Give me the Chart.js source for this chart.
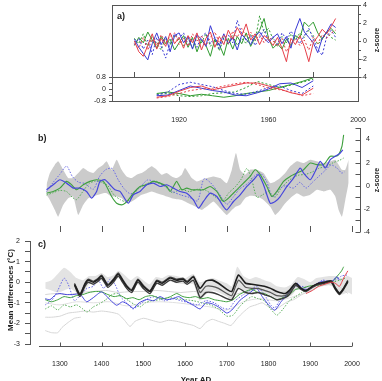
<!DOCTYPE html>
<html>
<head>
<meta charset="utf-8">
<script src="https://cdn.jsdelivr.net/npm/chart.js@4"></script>
<style>
  html, body { margin: 0; padding: 0; background: #fff; }
  #wrap { position: relative; width: 382px; height: 381px; overflow: hidden; }
  canvas { position: absolute; left: 0; top: 0; }
</style>
</head>
<body>
<div id="wrap">
  <canvas id="pa1" width="382" height="381"></canvas>
  <canvas id="pa2" width="382" height="381"></canvas>
  <canvas id="pb" width="382" height="381"></canvas>
  <canvas id="pc" width="382" height="381"></canvas>
</div>
<script>
const FONT = '"Liberation Sans", Arial, sans-serif';
const INK = '#222';
const AXIS = '#555';

// ---- panel a (top): yearly z-scores, every 2nd year ----
const aYears = [1900,1902,1904,1906,1908,1910,1912,1914,1916,1918,1920,1922,1924,1926,1928,1930,1932,1934,1936,1938,1940,1942,1944,1946,1948,1950,1952,1954,1956,1958,1960,1962,1964,1966,1968,1970,1972,1974,1976,1978,1980,1982,1984,1986,1988,1990];
const aRed = [0.0,-1.2,-1.7,-0.5,0.8,-0.9,0.3,-0.6,0.9,-0.3,0.4,-0.8,0.6,-0.2,0.9,-1.0,0.3,1.0,-0.7,0.5,-0.4,1.2,0.2,1.5,0.6,1.9,0.1,0.8,-0.4,0.6,0.2,-0.5,0.4,-0.8,-2.3,0.3,-0.4,0.6,-0.6,-2.3,-0.2,0.5,1.3,0.8,1.6,2.5];
const aRedDot = [-0.3,-0.8,0.4,-1.0,0.2,-0.5,0.7,-0.2,0.5,0.9,-0.4,0.3,-0.6,0.8,0.0,0.6,-0.5,0.4,1.0,-0.2,0.7,-0.3,1.1,0.4,1.4,0.5,1.0,0.1,0.7,-0.2,0.5,0.0,-0.6,0.3,-1.2,-0.3,0.2,-0.5,0.1,-1.0,0.4,-0.3,0.7,0.3,0.9,1.2];
const aBlue = [0.2,-0.7,-1.4,-2.1,-0.3,0.9,-0.4,0.5,-1.2,0.6,0.9,-0.2,0.5,-0.9,0.7,0.2,-0.6,1.7,0.3,-0.5,0.8,-0.3,0.4,-1.0,0.7,0.2,-0.4,0.6,1.0,0.3,-0.2,0.4,0.8,-0.3,0.5,-0.8,1.2,2.5,1.0,0.4,-0.2,-1.3,0.3,1.0,1.9,1.5];
const aBlueDot = [-0.4,0.3,-0.9,0.1,-1.5,0.4,-0.6,-1.9,-0.2,0.8,0.3,0.9,-0.4,0.2,-0.7,0.5,0.9,-0.3,0.4,-0.9,0.3,0.7,-0.2,2.3,0.8,0.1,0.6,-0.5,0.4,1.3,0.0,0.5,-0.4,0.9,0.2,1.1,0.4,-0.3,0.6,1.4,0.2,-0.9,-1.6,0.5,1.2,0.4];
const aGreen = [-0.5,0.4,-0.2,1.0,0.1,-0.8,0.5,-0.3,0.2,-1.0,-0.2,0.6,-0.7,0.4,-1.2,0.1,-0.5,-1.7,0.2,-0.4,-1.6,0.3,-0.9,0.5,-0.3,0.9,-0.6,0.4,1.2,2.5,0.3,-0.8,-0.3,-0.9,0.2,-0.5,0.6,0.3,2.1,1.6,2.1,0.9,0.2,1.0,1.4,0.8];
const aGreenDot = [0.3,-0.3,0.8,-0.6,0.5,-0.3,-1.0,0.4,-0.4,0.7,0.1,-0.5,0.3,-0.8,0.5,-0.2,0.8,-0.6,0.1,-1.1,0.4,-0.4,0.6,-0.5,0.3,-0.3,0.7,0.0,2.8,0.9,1.4,0.2,-0.6,0.5,-0.2,0.8,0.1,0.9,0.4,1.2,0.6,-0.4,0.2,0.9,0.4,0.1];

// ---- panel a (bottom): smoothed, every 5 years ----
const aSmYears = [1910,1915,1920,1925,1930,1935,1940,1945,1950,1955,1960,1965,1970,1975,1980];
const aSmRed = [-0.55,-0.45,-0.15,0.1,0.2,-0.05,0.1,0.25,0.4,0.4,0.2,0.0,-0.25,-0.4,0.05];
const aSmRedDot = [-0.6,-0.5,-0.3,-0.1,0.0,0.05,0.2,0.35,0.45,0.3,0.05,-0.05,-0.2,-0.45,-0.3];
const aSmBlue = [-0.45,-0.4,-0.1,0.2,0.05,-0.1,-0.2,-0.4,-0.45,-0.25,0.0,0.35,0.4,0.1,0.55];
const aSmBlueDot = [-0.4,-0.2,0.3,0.45,0.3,0.15,-0.1,-0.3,-0.35,-0.15,0.1,0.2,-0.1,-0.3,0.2];
const aSmGreen = [-0.3,-0.2,-0.3,-0.45,-0.35,-0.45,-0.55,-0.45,-0.3,-0.2,-0.1,0.1,0.3,0.5,0.75];
const aSmGreenDot = [-0.35,-0.3,-0.45,-0.5,-0.45,-0.3,-0.25,-0.2,0.1,0.5,0.3,0.1,0.25,0.45,0.65];

const aTopTicks = [1900, 1920, 1940, 1960, 1980];
const aLowXTicks = [1920, 1960, 2000];
const aLowInTicks = [1920, 1960];

// ---- panel b ----
const bBandYears = [1268,1276,1288,1296,1308,1320,1332,1344,1356,1368,1380,1392,1404,1412,1424,1436,1448,1460,1472,1484,1496,1508,1520,1532,1544,1556,1568,1580,1592,1600,1616,1628,1640,1652,1668,1684,1700,1712,1722,1732,1744,1756,1772,1788,1804,1816,1828,1840,1852,1868,1884,1900,1916,1932,1948,1960,1968,1976,1984,1992];
const bBandHi = [0.09,1.1,1.83,2.12,1.39,0.67,0.67,1.1,1.54,1.25,1.1,1.54,1.83,2.12,1.39,2.26,1.39,0.81,0.67,0.96,1.1,1.39,1.68,1.39,0.96,1.1,0.81,0.67,0.96,1.54,0.67,0.38,0.52,0.67,0.81,0.67,0.23,1.39,2.84,1.39,0.96,1.39,1.39,1.1,0.23,0.38,0.67,1.1,1.68,2.12,1.97,2.26,2.12,1.97,2.12,2.26,1.83,1.39,1.39,2.26];
const bBandLo = [-0.78,-1.22,-2.09,-2.67,-1.65,-1.07,-0.93,-2.52,-1.65,-1.07,-0.93,-0.78,-0.64,-0.64,-0.93,-0.93,-1.07,-1.51,-1.36,-1.07,-0.78,-0.64,-0.49,-0.64,-0.78,-0.93,-1.07,-1.16,-1.22,-1.36,-1.65,-1.86,-2.09,-1.8,-1.36,-1.94,-2.52,-2.09,-1.8,-1.65,-1.07,-0.87,-0.93,-1.22,-1.8,-2.52,-2.09,-1.51,-1.07,-0.64,-0.93,-0.78,-0.35,-0.49,-0.35,-0.93,-2.09,-2.67,-1.22,0.23];
const bBlueYears = [1268,1284,1300,1316,1332,1348,1364,1376,1388,1396,1408,1420,1432,1444,1464,1476,1492,1508,1524,1540,1556,1572,1588,1604,1620,1632,1644,1660,1676,1692,1700,1716,1732,1748,1764,1776,1788,1804,1816,1828,1844,1860,1876,1884,1900,1912,1924,1936,1948,1960,1972,1978];
const bBlue = [-0.35,0.09,0.52,0.23,-0.2,-0.2,-0.49,-1.07,-0.49,0.38,0.52,0.09,-0.35,-0.49,-1.51,-0.78,-0.49,0.09,0.23,-0.06,0.09,-0.2,-0.49,-0.64,-1.22,-1.94,-1.36,-0.64,-0.93,-1.8,-2.09,-1.36,-0.78,-0.06,0.52,0.96,0.09,-1.51,-1.36,-0.93,-0.06,0.67,1.54,1.1,0.52,1.25,2.12,1.54,2.26,2.55,2.84,3.1];
const bGreenYears = [1268,1284,1300,1316,1328,1340,1356,1372,1388,1404,1412,1424,1436,1448,1456,1464,1476,1492,1508,1524,1540,1556,1564,1572,1580,1592,1604,1616,1628,1644,1660,1676,1692,1708,1724,1740,1756,1768,1780,1796,1808,1820,1836,1852,1868,1884,1900,1916,1932,1948,1960,1968,1976,1980];
const bGreen = [-0.64,-0.49,-0.2,0.38,0.09,-0.35,0.09,0.38,0.52,0.38,-0.06,-0.93,-1.51,-1.65,-1.51,-1.22,-0.64,-0.06,0.09,0.38,0.23,-0.06,-0.49,-0.06,0.38,-0.35,-0.2,-0.35,-0.35,-0.35,-0.06,-0.49,-1.36,-0.93,-0.35,0.23,0.81,1.39,0.96,-0.06,-0.93,-0.49,0.38,0.81,1.1,1.39,1.97,1.83,1.83,2.55,2.55,2.7,3.42,4.41];
const bBlueDotYears = [1268,1284,1300,1316,1330,1345,1360,1380,1395,1410,1425,1440,1455,1470,1490,1510,1530,1550,1570,1590,1610,1630,1645,1660,1680,1700,1715,1730,1750,1765,1780,1795,1810,1825,1840,1860,1875,1890,1905,1920,1935,1950,1965,1975,1982];
const bBlueDot = [-0.5,0.3,1.0,1.7,0.8,0.3,0.2,-0.3,0.8,1.4,1.5,0.5,-0.3,-0.7,-0.2,0.5,0.3,0.0,-0.5,-0.8,-1.0,-1.3,0.6,0.3,-0.6,-1.6,-1.0,-0.3,0.2,0.8,1.1,0.4,-1.0,-0.3,0.0,-0.2,0.3,-0.2,0.3,0.8,1.3,1.8,1.5,1.1,1.2];
const bGreenDotYears = [1268,1284,1300,1316,1330,1340,1355,1370,1385,1400,1415,1430,1445,1460,1475,1490,1510,1530,1550,1570,1590,1610,1630,1650,1670,1690,1705,1720,1735,1748,1760,1772,1785,1800,1815,1830,1850,1870,1890,1905,1920,1940,1955,1970,1980];
const bGreenDot = [-0.8,-0.6,-0.4,-0.5,-1.0,-1.2,-0.5,0.2,0.4,0.3,0.0,-0.8,-1.2,-1.4,-0.8,-0.2,0.2,0.4,0.0,-0.6,-0.3,-0.5,-0.3,-0.4,-0.9,-1.3,-0.6,-0.1,0.6,1.5,0.5,-1.0,-0.8,-0.5,-1.0,-0.2,0.5,0.9,1.0,1.2,1.5,1.7,2.0,2.2,2.4];

// ---- panel c ----
const cBandYears = [1265,1280,1295,1310,1325,1340,1355,1370,1385,1400,1415,1430,1440,1455,1470,1485,1500,1515,1530,1545,1560,1580,1600,1620,1635,1650,1665,1680,1700,1712,1725,1740,1755,1770,1790,1805,1820,1840,1855,1870,1885,1900,1915,1930,1945,1960,1975,1990,2000];
const cBandHi = [0.0,0.1,0.4,0.7,0.5,0.2,0.1,0.3,0.3,0.45,0.25,0.35,0.55,0.35,0.1,0.3,0.1,-0.1,0.25,0.2,0.35,0.3,0.2,0.4,0.0,0.1,0.2,0.1,-0.05,-0.2,0.75,0.3,0.15,0.25,0.1,0.0,-0.2,-0.25,-0.1,0.25,0.15,0.0,0.2,0.25,0.3,0.3,0.2,0.3,0.2];
const cBandLo = [-0.3,-0.4,-0.5,-0.4,-0.3,-0.5,-0.6,-0.1,-0.1,0.1,-0.25,-0.05,0.2,-0.15,-0.45,-0.1,-0.35,-0.5,-0.1,-0.15,0.05,-0.05,-0.1,-0.1,-0.9,-0.6,-0.4,-0.5,-0.7,-0.9,-0.3,-0.4,-0.45,-0.35,-0.55,-0.65,-0.85,-0.75,-0.65,-0.3,-0.35,-0.45,-0.3,-0.2,-0.15,-0.3,-0.6,-0.5,-0.6];
const cGreyAYears = [1265,1290,1320,1350,1380,1410,1440,1470,1500,1530,1560,1590,1620,1650,1680,1700,1720,1750,1780,1810,1840,1870,1900,1930,1960,1990];
const cGreyA = [-0.6,-0.55,-0.6,-0.5,-0.45,-0.4,-0.5,-0.45,-0.45,-0.4,-0.45,-0.5,-0.45,-0.5,-0.6,-0.8,-0.6,-0.45,-0.35,-0.5,-0.45,-0.3,-0.2,-0.15,-0.1,-0.55];
const cGreyBYears = [1265,1300,1340,1380,1420,1460,1500,1540,1580,1620,1660,1700,1740,1780,1820,1860,1900];
const cGreyB = [-1.0,-1.1,-0.95,-1.0,-0.95,-1.15,-1.0,-0.95,-1.0,-1.1,-1.2,-1.35,-0.95,-0.8,-0.9,-0.7,-0.45];
const cGreyCYears = [1265,1280,1300,1320,1340,1360,1380,1400,1420,1440,1455,1468,1480,1500,1520,1540,1560,1580,1600,1620,1636,1650,1665,1680,1695,1710,1725,1740,1755,1770,1785,1800,1815,1830,1845,1860,1880,1900];
const cGreyC = [-1.7,-1.7,-1.65,-1.5,-1.45,-1.4,-1.45,-1.4,-1.45,-1.55,-1.85,-2.15,-1.9,-1.75,-1.85,-1.95,-1.85,-1.9,-2.0,-2.1,-2.25,-1.95,-1.8,-1.9,-2.0,-2.1,-1.75,-1.45,-1.2,-1.1,-1.0,-1.2,-1.35,-1.15,-0.95,-0.85,-0.6,-0.4];
const cGreyDYears = [1265,1280,1295,1305,1320,1335,1350];
const cGreyD = [-2.35,-2.45,-2.45,-2.2,-1.95,-1.75,-1.7];
const cBlackYears = [1335,1348,1360,1368,1380,1392,1400,1415,1428,1440,1450,1460,1472,1487,1500,1516,1532,1545,1564,1580,1595,1605,1620,1636,1650,1665,1680,1700,1712,1728,1745,1760,1775,1790,1805,1820,1840,1850,1865,1878,1890,1905,1920,1935,1950,1960,1970,1980,1990];
const cBlack1 = [-0.1,-0.6,-0.1,0.1,0.0,0.15,0.3,-0.15,0.1,0.4,0.1,-0.2,-0.4,0.1,-0.2,-0.45,0.05,-0.05,0.2,0.1,0.15,0.0,0.25,-0.3,0.05,0.1,-0.05,-0.35,-0.45,0.35,-0.05,-0.1,-0.15,-0.2,-0.3,-0.45,-0.55,-0.4,-0.05,-0.3,-0.4,-0.2,-0.05,0.0,0.05,-0.3,-0.55,-0.3,0.05];
const cBlack2 = [-0.15,-0.7,-0.2,0.0,-0.1,0.05,0.2,-0.25,0.0,0.3,0.0,-0.3,-0.5,0.0,-0.3,-0.55,-0.05,-0.15,0.1,0.0,0.05,-0.1,0.1,-0.75,-0.5,-0.5,-0.6,-0.8,-0.85,-0.3,-0.5,-0.55,-0.5,-0.6,-0.7,-0.85,-0.75,-0.6,-0.15,-0.35,-0.45,-0.25,-0.1,-0.05,0.0,-0.35,-0.6,-0.35,0.0];
const cBlack3 = [-0.05,-0.55,-0.05,0.15,0.05,0.2,0.35,-0.1,0.15,0.45,0.15,-0.15,-0.35,0.15,-0.15,-0.4,0.1,0.0,0.25,0.15,0.2,0.05,0.3,-0.5,-0.2,-0.2,-0.3,-0.55,-0.65,0.1,-0.25,-0.3,-0.3,-0.4,-0.5,-0.65,-0.65,-0.5,-0.1,-0.3,-0.42,-0.22,-0.07,0.02,0.08,-0.25,-0.5,-0.28,0.1];
const cBlueYears = [1265,1276,1290,1300,1315,1330,1348,1364,1380,1400,1420,1436,1450,1465,1476,1490,1508,1525,1540,1555,1570,1585,1600,1620,1636,1650,1665,1680,1700,1712,1732,1750,1771,1785,1800,1815,1830,1845,1868,1880,1895,1910,1923,1935,1950,1963,1970];
const cBlue = [-0.8,-0.85,-0.6,-0.55,-0.6,-0.6,-0.58,-0.95,-0.75,-0.47,-0.85,-1.12,-0.95,-1.1,-1.27,-1.0,-0.84,-0.9,-0.7,-0.85,-0.8,-0.7,-0.9,-1.12,-1.3,-1.0,-1.05,-1.2,-1.5,-1.35,-0.87,-0.6,-0.3,-0.7,-1.1,-1.36,-0.95,-0.6,-0.05,-0.3,-0.35,-0.15,0.0,0.05,0.0,0.26,0.1];
const cBlueDotYears = [1265,1280,1295,1310,1320,1335,1350,1365,1380,1392,1405,1420,1432,1445,1460,1475,1490,1510,1530,1550,1570,1590,1610,1630,1650,1670,1690,1705,1720,1740,1755,1772,1790,1805,1815,1830,1850,1865,1880,1900,1915,1930,1945,1960,1975,1988];
const cBlueDot = [-1.1,-0.9,-0.4,0.2,-0.1,-0.9,-0.6,-0.3,-0.2,0.1,-0.3,0.15,-0.1,-0.7,-1.0,-1.3,-1.1,-0.8,-0.7,-0.9,-0.8,-0.9,-1.0,-1.1,-0.9,-1.0,-1.25,-1.3,-0.9,-0.6,-0.4,-0.2,-0.6,-1.1,-1.25,-0.8,-0.5,-0.2,-0.2,-0.3,-0.1,0.1,0.05,0.1,0.3,0.35];
const cGreenYears = [1265,1280,1295,1310,1325,1340,1355,1370,1385,1400,1415,1430,1445,1460,1475,1490,1505,1520,1535,1550,1565,1580,1595,1610,1625,1640,1655,1670,1685,1700,1715,1730,1745,1760,1775,1790,1805,1820,1835,1850,1865,1880,1895,1910,1925,1940,1955,1965,1975,1980];
const cGreen = [-0.85,-0.95,-0.85,-0.7,-0.75,-0.65,-0.6,-0.5,-0.45,-0.47,-0.6,-0.7,-0.65,-0.8,-0.75,-0.85,-0.7,-0.65,-0.75,-0.8,-0.7,-0.55,-0.7,-0.75,-0.7,-0.8,-0.75,-0.85,-0.9,-0.95,-0.85,-0.6,-0.45,-0.35,-0.5,-0.55,-0.7,-0.85,-0.75,-0.6,-0.35,-0.3,-0.2,-0.15,-0.1,0.0,0.05,0.3,0.55,0.75];
const cGreenDotYears = [1265,1280,1295,1310,1325,1340,1355,1365,1380,1395,1410,1425,1438,1450,1465,1480,1492,1505,1520,1540,1560,1580,1600,1620,1640,1660,1680,1700,1715,1730,1745,1760,1775,1790,1805,1820,1835,1850,1865,1880,1895,1910,1925,1940,1955,1970,1985];
const cGreenDot = [-1.3,-1.15,-1.35,-1.1,-1.2,-1.1,-1.3,-1.45,-1.2,-1.05,-0.85,-0.6,-0.55,-0.7,-0.9,-1.1,-1.2,-1.0,-0.9,-0.85,-0.75,-0.8,-0.85,-0.9,-1.0,-1.1,-1.3,-1.65,-1.6,-1.2,-0.9,-0.7,-0.8,-0.9,-1.3,-1.6,-1.3,-0.9,-0.7,-0.5,-0.35,-0.2,-0.15,-0.05,0.0,0.1,0.2];
const cRedYears = [1890,1905,1920,1935,1950,1960,1970,1980,1990];
const cRed = [-0.55,-0.4,-0.2,-0.1,0.0,-0.05,-0.2,0.2,0.55];

const bcXTicks = [1300, 1400, 1500, 1600, 1700, 1800, 1900, 2000];

const RED = '#e5404a', BLUE = '#3838d4', GREEN = '#2f9a2f';
const BBLUE = '#4646dc', BBLUEDOT = '#6a6ae6', BGREEN = '#3fa03f', BGREENDOT = '#5aae5a';

Chart.defaults.font.family = FONT;
Chart.defaults.color = INK;

const tickFont = { family: FONT, size: 7 };

function pts(xs, ys) {
  return xs.map((x, i) => ({ x: x, y: ys[i] }));
}

function ser(xs, ys, color, extra) {
  return Object.assign({
    data: pts(xs, ys),
    borderColor: color,
    borderWidth: 1,
    pointRadius: 0,
    fill: false,
    tension: 0
  }, extra || {});
}

// list is given bottom-most first; chart.js paints lower "order" on top
function layered(list) {
  list.forEach((d, i) => { d.order = list.length - i; });
  return list;
}

function seg(ctx, x1, y1, x2, y2) {
  ctx.beginPath();
  ctx.moveTo(x1, y1);
  ctx.lineTo(x2, y2);
  ctx.stroke();
}

function vtext(ctx, s, x, y, font) {
  ctx.save();
  ctx.translate(x, y);
  ctx.rotate(-Math.PI / 2);
  ctx.font = font;
  ctx.textAlign = 'center';
  ctx.textBaseline = 'middle';
  ctx.fillText(s, 0, 0);
  ctx.restore();
}

function fixTicks(list) {
  return s => { s.ticks = list.map(v => ({ value: v })); };
}

function opts(padding, scales) {
  return {
    responsive: false,
    animation: false,
    devicePixelRatio: 1,
    events: [],
    layout: { padding: padding },
    scales: scales,
    plugins: { legend: { display: false }, tooltip: { enabled: false } }
  };
}

function deco(draw) {
  return { id: 'deco', afterDraw: draw };
}

// ---------- panel a, top ----------
new Chart(document.getElementById('pa1'), {
  type: 'line',
  data: {
    datasets: layered([
      ser(aYears, aGreenDot, GREEN, { borderDash: [2, 2] }),
      ser(aYears, aGreen, GREEN),
      ser(aYears, aBlueDot, BLUE, { borderDash: [2, 2] }),
      ser(aYears, aBlue, BLUE),
      ser(aYears, aRedDot, RED, { borderDash: [2, 2] }),
      ser(aYears, aRed, RED)
    ])
  },
  options: opts({ left: 112, top: 5, right: 15, bottom: 304 }, {
    x: { type: 'linear', min: 1890, max: 2000, display: false },
    y: {
      type: 'linear', position: 'right', min: -4, max: 4,
      afterFit: s => { s.width = 9; },
      ticks: { stepSize: 1, autoSkip: false, crossAlign: 'far', padding: 0, font: tickFont, color: INK,
        callback: v => (Math.round(v) % 2 === 0 ? String(Math.round(v)) : '') },
      grid: { drawOnChartArea: false, tickLength: 3, color: AXIS },
      border: { display: false }
    }
  }),
  plugins: [deco(chart => {
    const ctx = chart.ctx, a = chart.chartArea, x = chart.scales.x;
    ctx.save();
    ctx.strokeStyle = AXIS;
    ctx.lineWidth = 1;
    ctx.strokeRect(a.left + 0.5, a.top + 0.5, a.right - a.left, a.bottom - a.top);
    aTopTicks.forEach(v => {
      const p = Math.round(x.getPixelForValue(v)) + 0.5;
      seg(ctx, p, a.bottom - 5, p, a.bottom);
    });
    ctx.fillStyle = INK;
    ctx.font = 'bold 9px ' + FONT;
    ctx.textAlign = 'left';
    ctx.textBaseline = 'middle';
    ctx.fillText('a)', 117, 17);
    vtext(ctx, 'z-score', 377, 40, 'bold 7px ' + FONT);
    ctx.restore();
  })]
});

// ---------- panel a, bottom ----------
new Chart(document.getElementById('pa2'), {
  type: 'line',
  data: {
    datasets: layered([
      ser(aSmYears, aSmGreenDot, GREEN, { borderDash: [2, 2] }),
      ser(aSmYears, aSmGreen, GREEN),
      ser(aSmYears, aSmBlueDot, BLUE, { borderDash: [2, 2] }),
      ser(aSmYears, aSmBlue, BLUE),
      ser(aSmYears, aSmRedDot, RED, { borderDash: [2, 2] }),
      ser(aSmYears, aSmRed, RED)
    ])
  },
  options: opts({ left: 82, top: 77, right: 24, bottom: 250 }, {
    x: {
      type: 'linear', position: 'bottom', min: 1890, max: 2000,
      afterBuildTicks: fixTicks(aLowXTicks),
      afterFit: s => { s.height = 30; },
      ticks: { autoSkip: false, maxRotation: 0, padding: 7, font: tickFont, color: INK, callback: v => String(v) },
      grid: { display: false },
      border: { display: false }
    },
    y: {
      type: 'linear', position: 'left', min: -0.8, max: 0.8,
      afterFit: s => { s.width = 30; },
      ticks: { stepSize: 0.4, autoSkip: false, padding: 3, font: tickFont, color: INK,
        callback: v => (Math.abs(v) < 1e-6 ? '0' : (Math.abs(Math.abs(v) - 0.8) < 1e-6 ? v.toFixed(1) : '')) },
      grid: { drawOnChartArea: false, tickLength: 3, color: AXIS },
      border: { display: false }
    }
  }),
  plugins: [deco(chart => {
    const ctx = chart.ctx, a = chart.chartArea, x = chart.scales.x;
    ctx.save();
    ctx.strokeStyle = AXIS;
    ctx.lineWidth = 1;
    ctx.strokeRect(a.left + 0.5, a.top + 0.5, a.right - a.left, a.bottom - a.top);
    aLowInTicks.forEach(v => {
      const p = Math.round(x.getPixelForValue(v)) + 0.5;
      seg(ctx, p, a.bottom - 4, p, a.bottom);
    });
    ctx.restore();
  })]
});

// ---------- panel b ----------
new Chart(document.getElementById('pb'), {
  type: 'line',
  data: {
    datasets: layered([
      ser(bBandYears, bBandHi, 'rgba(0,0,0,0)', { borderWidth: 0, fill: '+1', backgroundColor: '#cbcbcb', tension: 0.15 }),
      ser(bBandYears, bBandLo, 'rgba(0,0,0,0)', { borderWidth: 0, tension: 0.15 }),
      ser(bGreenDotYears, bGreenDot, BGREENDOT, { borderDash: [1.5, 1.5], tension: 0.25 }),
      ser(bBlueDotYears, bBlueDot, BBLUEDOT, { borderDash: [1.5, 1.5], tension: 0.25 }),
      ser(bGreenYears, bGreen, BGREEN, { borderWidth: 1.1, tension: 0.2 }),
      ser(bBlueYears, bBlue, BBLUE, { borderWidth: 1.2, tension: 0.2 })
    ])
  },
  options: opts({ left: 30, top: 128, right: 12, bottom: 149 }, {
    x: { type: 'linear', min: 1228.4, max: 2019.2, display: false },
    y: {
      type: 'linear', position: 'right', min: -4, max: 5,
      afterFit: s => { s.width = 10; },
      ticks: { stepSize: 1, autoSkip: false, crossAlign: 'far', padding: 3, font: tickFont, color: INK,
        callback: v => (Math.round(v) % 2 === 0 ? String(Math.round(v)) : '') },
      grid: { display: false },
      border: { display: false }
    }
  }),
  plugins: [deco(chart => {
    const ctx = chart.ctx, a = chart.chartArea, x = chart.scales.x, y = chart.scales.y;
    ctx.save();
    ctx.strokeStyle = AXIS;
    ctx.lineWidth = 1;
    const ax = Math.round(a.right) + 0.5;
    seg(ctx, ax, a.top, ax, a.bottom);
    y.ticks.forEach(t => {
      const p = Math.round(y.getPixelForValue(t.value)) + 0.5;
      seg(ctx, ax - 5, p, ax, p);
    });
    bcXTicks.forEach(v => {
      const p = Math.round(x.getPixelForValue(v)) + 0.5;
      seg(ctx, p, a.bottom - 6, p, a.bottom);
    });
    ctx.fillStyle = INK;
    ctx.font = 'bold 9px ' + FONT;
    ctx.textAlign = 'left';
    ctx.textBaseline = 'middle';
    ctx.fillText('b)', 38, 139);
    vtext(ctx, 'z-score', 377, 180, 'bold 7px ' + FONT);
    ctx.restore();
  })]
});

// ---------- panel c ----------
new Chart(document.getElementById('pc'), {
  type: 'line',
  data: {
    datasets: layered([
      ser(cBandYears, cBandHi, 'rgba(0,0,0,0)', { borderWidth: 0, fill: '+1', backgroundColor: '#e3e3e3', tension: 0.2 }),
      ser(cBandYears, cBandLo, 'rgba(0,0,0,0)', { borderWidth: 0, tension: 0.2 }),
      ser(cGreyDYears, cGreyD, '#d6d6d6', { tension: 0.2 }),
      ser(cGreyCYears, cGreyC, '#d6d6d6', { tension: 0.2 }),
      ser(cGreyBYears, cGreyB, '#e0e0e0', { tension: 0.3 }),
      ser(cGreyAYears, cGreyA, '#d6d6d6', { tension: 0.3 }),
      ser(cGreenDotYears, cGreenDot, BGREENDOT, { borderDash: [1.5, 1.5], tension: 0.2 }),
      ser(cBlueDotYears, cBlueDot, BBLUEDOT, { borderDash: [1.5, 1.5], tension: 0.2 }),
      ser(cGreenYears, cGreen, BGREEN, { tension: 0.2 }),
      ser(cBlueYears, cBlue, BBLUE, { tension: 0.2 }),
      ser(cBlackYears, cBlack2, '#3a3a3a', { borderWidth: 1.4, tension: 0.2 }),
      ser(cBlackYears, cBlack3, '#555555', { borderWidth: 1.2, tension: 0.2 }),
      ser(cBlackYears, cBlack1, '#1e1e1e', { borderWidth: 1.6, tension: 0.2 }),
      ser(cRedYears, cRed, RED, { tension: 0.2 })
    ])
  },
  options: opts({ left: 0, top: 241, right: 22, bottom: 0 }, {
    x: {
      type: 'linear', position: 'bottom', min: 1228.4, max: 2019.2,
      afterBuildTicks: fixTicks(bcXTicks),
      afterFit: s => { s.height = 37; },
      ticks: { autoSkip: false, maxRotation: 0, padding: 8, font: tickFont, color: INK, callback: v => String(v) },
      grid: { display: false },
      border: { display: false }
    },
    y: {
      type: 'linear', position: 'left', min: -3, max: 2,
      afterFit: s => { s.width = 30; },
      ticks: { stepSize: 0.5, autoSkip: false, padding: 5, font: tickFont, color: INK,
        callback: v => (Math.abs(v - Math.round(v)) < 1e-6 ? String(Math.round(v)) : '') },
      grid: { drawOnChartArea: false, tickLength: 5, color: AXIS },
      border: { display: true, color: AXIS, width: 1 }
    }
  }),
  plugins: [deco(chart => {
    const ctx = chart.ctx, a = chart.chartArea, x = chart.scales.x;
    ctx.save();
    ctx.strokeStyle = AXIS;
    ctx.lineWidth = 1;
    const yb = Math.round(a.bottom) + 2.5;
    seg(ctx, x.getPixelForValue(1250), yb, x.getPixelForValue(2000), yb);
    bcXTicks.forEach(v => {
      const p = Math.round(x.getPixelForValue(v)) + 0.5;
      seg(ctx, p, yb - 4, p, yb);
    });
    ctx.fillStyle = INK;
    ctx.font = 'bold 9px ' + FONT;
    ctx.textAlign = 'left';
    ctx.textBaseline = 'middle';
    ctx.fillText('c)', 38, 245);
    vtext(ctx, 'Mean differences (\u00B0C)', 11, 290, 'bold 8px ' + FONT);
    ctx.font = 'bold 8px ' + FONT;
    ctx.textAlign = 'center';
    ctx.textBaseline = 'top';
    ctx.fillText('Year AD', 196, 376);
    ctx.restore();
  })]
});
</script>
</body>
</html>
